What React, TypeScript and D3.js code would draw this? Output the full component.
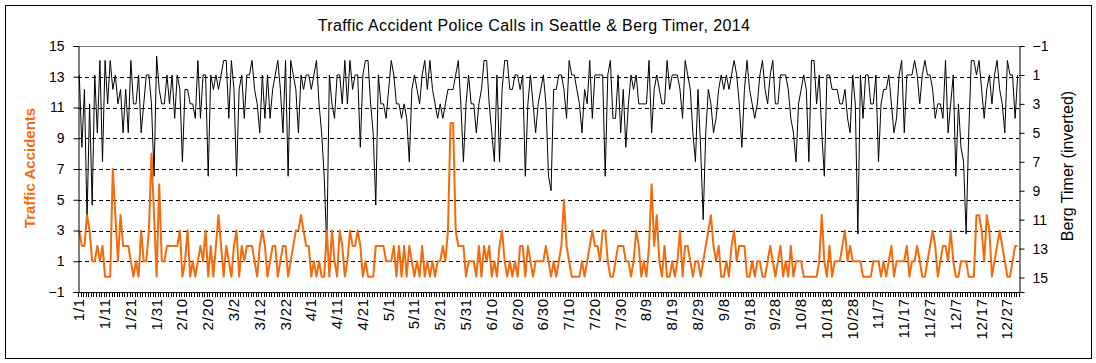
import React, { useEffect, useRef } from 'react';
import * as d3 from 'd3';

// daily police calls for traffic accidents, Seattle 2014
const accidents = [
  3, 2, 2, 4, 3, 1, 1, 2, 1, 2, 0, 0, 0, 7, 4, 1, 4, 2, 2, 2, 1, 0, 1, 0, 3, 1, 1, 3, 8, 4, 0, 6, 1,
  1, 2, 2, 2, 2, 2, 3, 0, 1, 3, 0, 1, 0, 1, 2, 1, 3, 0, 2, 0, 2, 4, 2, 0, 2, 1, 0, 2, 3, 0, 2, 1, 2, 2, 2, 1,
  0, 2, 3, 2, 0, 1, 2, 2, 0, 1, 2, 2, 0, 1, 2, 3, 3, 4, 3, 2, 2, 0, 1, 0, 1, 0, 0, 3, 0, 3, 1, 0, 3, 2, 0, 1, 3, 2,
  2, 3, 2, 0, 1, 0, 0, 0, 2, 2, 2, 2, 1, 1, 1, 2, 0, 2, 0, 2, 0, 2, 1, 0, 1, 0, 2, 0, 1, 0, 1, 0, 1, 1, 2, 1, 3,
  10, 10, 3, 2, 2, 2, 0, 1, 1, 1, 0, 2, 0, 2, 1, 2, 0, 1, 0, 2, 3, 1, 0, 1, 0, 1, 0, 2, 2, 0, 2, 1, 0, 1, 1, 1, 1,
  2, 1, 0, 1, 0, 1, 2, 5, 2, 1, 0, 0, 0, 0, 1, 0, 1, 2, 3, 2, 2, 1, 3, 3, 1, 0, 0, 1, 2, 2, 2, 1, 1, 0, 1, 3, 2, 0,
  1, 0, 2, 6, 2, 4, 1, 0, 2, 0, 0, 1, 0, 1, 3, 0, 2, 2, 1, 0, 1, 1, 0, 1, 2, 3, 4, 2, 1, 2, 0, 0, 1, 0, 2, 3, 1, 2,
  2, 2, 0, 0, 1, 0, 1, 1, 0, 0, 1, 2, 1, 0, 1, 2, 0, 1, 0, 2, 0, 1, 1, 1, 0, 0, 0, 0, 0, 0, 1, 4, 1, 0, 2, 0, 1,
  1, 1, 2, 3, 1, 2, 1, 1, 1, 1, 0, 0, 0, 0, 1, 1, 1, 0, 1, 0, 1, 2, 0, 1, 1, 1, 1, 2, 0, 1, 1, 2, 1, 0, 0, 1, 2,
  3, 2, 0, 1, 2, 2, 1, 3, 1, 0, 0, 1, 1, 1, 0, 0, 0, 4, 4, 3, 1, 4, 3, 0, 1, 2, 3, 2, 1, 0, 0, 1, 2, 2,
];

// daily Berg timer, plotted on the inverted right axis
const bergTimer = [
  1, 6, 2, 11, 3, 10, 1, 5, 0, 7, 0, 3, 0, 2, 1, 3, 2, 5, 2, 5, 0, 3, 3, 1, 5, 3, 1, 1, 3, 8, -0.3, 2, 3,
  3, 1, 3, 1, 4, 1, 2, 7, 2, 2, 3, 3, 4, 0, 4, 1, 1, 8, 1, 2, 1, 2, 1, 0, 0, 4, 0, 2, 8, 2, 1, 4, 1, 1, 0, 2, 3, 5,
  1, 4, 1, 4, 2, 1, 0, 2, 5, 0, 8, 0, 1, 2, 5, 1, 2, 1, 1, 2, 1, 0, 3, 5, 8, 13, 1, 3, 4, 1, 1, 3, 0, 3, 0, 2,
  1, 1, 6, 1, 0, 0, 3, 5, 10, 1, 3, 3, 4, 2, 0, 1, 3, 3, 4, 3, 4, 7, 2, 1, 2, 3, 1, 0, 2, 0, 2, 3, 4, 3, 4, 3, 2,
  2, 2, 1, 0, 3, 7, 3, 1, 3, 3, 5, 3, 2, 0, 0, 3, 5, 7, 1, 7, 2, 0, 0, 2, 2, 1, 1, 2, 1, 8, 3, 1, 3, 5, 3, 2, 1,
  3, 8, 9, 2, 2, 1, 1, 2, 4, 0, 1, 1, 2, 3, 5, 2, 3, 0, 4, 1, 1, 1, 1, 8, 1, 0, 4, 4, 1, 5, 2, 6, 3, 1, 2, 1, 3, 3,
  3, 3, 0, 5, 2, 1, 2, 3, 3, 0, 2, 1, 1, 1, 2, 4, 0, 1, 2, 5, 7, 2, 6, 11, 5, 2, 3, 5, 4, 2, 1, 2, 1, 2, 1, 0, 1, 3,
  6, 2, 0, 2, 3, 4, 3, 1, 0, 2, 3, 1, 0, 3, 3, 1, 1, 1, 2, 4, 5, 7, 3, 2, 1, 2, 7, 0, 0, 3, 1, 5, 8, 1, 1, 2, 2,
  2, 3, 3, 2, 4, 5, 1, 3, 12, 1, 4, 1, 1, 3, 3, 1, 7, 3, 2, 2, 1, 3, 5, 4, 1, 0, 5, 1, 1, 1, 0, 1, 3, 1, 0, 1, 1,
  2, 4, 3, 3, 4, 0, 5, 3, 1, 8, 3, 6, 7, 12, 5, 0, 0, 1, 0, 2, 4, 2, 1, 3, 1, 0, 2, 3, 5, 0, 1, 1, 4, 1,
];

const leftTicks = [-1, 1, 3, 5, 7, 9, 11, 13, 15];
const rightTicks = [-1, 1, 3, 5, 7, 9, 11, 13, 15];
const gridValues = [1, 3, 5, 7, 9, 11, 13];
const labelEvery = 10;

const days = d3.timeDays(new Date(2014, 0, 1), new Date(2015, 0, 1));
const fmt = d3.timeFormat('%-m/%-d');

const FONT = '"Liberation Sans", Arial, sans-serif';
const ORANGE = '#f26c0d';

function App() {
  const ref = useRef<SVGSVGElement>(null);

  useEffect(() => {
    const svg = d3.select(ref.current);
    svg.selectAll('*').remove();

    const left = 78, right = 1019, top = 46, bottom = 292;

    const x = d3.scaleBand<number>().domain(d3.range(days.length)).range([left, right]);
    const cx = (i: number) => x(i)! + x.bandwidth() / 2;
    const yL = d3.scaleLinear().domain([-1, 15]).range([bottom, top]);
    const yR = d3.scaleLinear().domain([-1, 16]).range([top, bottom]);

    svg.append('rect')
      .attr('width', 1096).attr('height', 363).attr('fill', '#fff');
    svg.append('rect')
      .attr('x', 5.5).attr('y', 5.5).attr('width', 1086).attr('height', 353)
      .attr('fill', 'none').attr('stroke', '#000');

    svg.append('text')
      .attr('x', 534).attr('y', 31)
      .attr('text-anchor', 'middle')
      .attr('font-family', FONT).attr('font-size', 16).attr('letter-spacing', 0.4)
      .text('Traffic Accident Police Calls in Seattle & Berg Timer, 2014');

    // dashed grid
    svg.append('g').selectAll('line').data(gridValues).join('line')
      .attr('x1', left).attr('x2', right)
      .attr('y1', d => Math.round(yL(d)) + 0.5).attr('y2', d => Math.round(yL(d)) + 0.5)
      .attr('stroke', '#000').attr('stroke-dasharray', '4,3');

    svg.append('line')
      .attr('x1', left).attr('x2', right).attr('y1', top + 0.5).attr('y2', top + 0.5)
      .attr('stroke', '#808080');

    const lineB = d3.line<number>().x((_, i) => cx(i)).y(d => yR(d));
    const lineA = d3.line<number>().x((_, i) => cx(i)).y(d => yL(d));

    svg.append('path').datum(bergTimer)
      .attr('d', lineB).attr('fill', 'none').attr('stroke', '#000').attr('stroke-width', 1);
    svg.append('path').datum(accidents)
      .attr('d', lineA).attr('fill', 'none').attr('stroke', ORANGE)
      .attr('stroke-width', 2).attr('stroke-linejoin', 'round');

    // left axis
    const gl = svg.append('g').attr('transform', `translate(${left + 0.5},0)`)
      .call(d3.axisLeft(yL).tickValues(leftTicks).tickSize(5).tickPadding(9));
    gl.select('.domain').attr('stroke', '#000');
    gl.selectAll('text').attr('font-family', FONT).attr('font-size', 14).attr('fill', '#000');

    // right axis
    const gr = svg.append('g').attr('transform', `translate(${right + 0.5},0)`)
      .call(d3.axisRight(yR).tickValues(rightTicks).tickSize(5).tickPadding(8));
    gr.selectAll('text').attr('font-family', FONT).attr('font-size', 14).attr('fill', '#000');

    // bottom axis: a tick per day, a label every ten days
    const gb = svg.append('g');
    gb.append('line')
      .attr('x1', left).attr('x2', right + 1).attr('y1', bottom + 0.5).attr('y2', bottom + 0.5)
      .attr('stroke', '#000');
    gb.selectAll('line.tick').data(d3.range(days.length + 1)).join('line')
      .attr('class', 'tick')
      .attr('x1', i => Math.round(left + i * x.step()) + 0.5)
      .attr('x2', i => Math.round(left + i * x.step()) + 0.5)
      .attr('y1', bottom).attr('y2', bottom + 5)
      .attr('stroke', '#000');
    gb.selectAll('text').data(d3.range(0, days.length, labelEvery)).join('text')
      .attr('transform', i => `translate(${cx(i) + 5},${bottom + 6}) rotate(-90)`)
      .attr('text-anchor', 'end')
      .attr('font-family', FONT).attr('font-size', 15).attr('letter-spacing', 0.8)
      .text(i => fmt(days[i]));

    svg.append('text')
      .attr('transform', `translate(35,${(top + bottom) / 2 - 1}) rotate(-90)`)
      .attr('text-anchor', 'middle')
      .attr('font-family', FONT).attr('font-size', 15).attr('font-weight', 'bold')
      .attr('fill', ORANGE)
      .text('Traffic Accidents');

    svg.append('text')
      .attr('transform', `translate(1073,${(top + bottom) / 2 - 3}) rotate(-90)`)
      .attr('text-anchor', 'middle')
      .attr('font-family', FONT).attr('font-size', 16)
      .text('Berg Timer (inverted)');
  }, []);

  return (
    <svg ref={ref} width={1096} height={363}
      style={{ position: 'absolute', left: 0, top: 0, display: 'block' }}></svg>
  );
}

export default App;
